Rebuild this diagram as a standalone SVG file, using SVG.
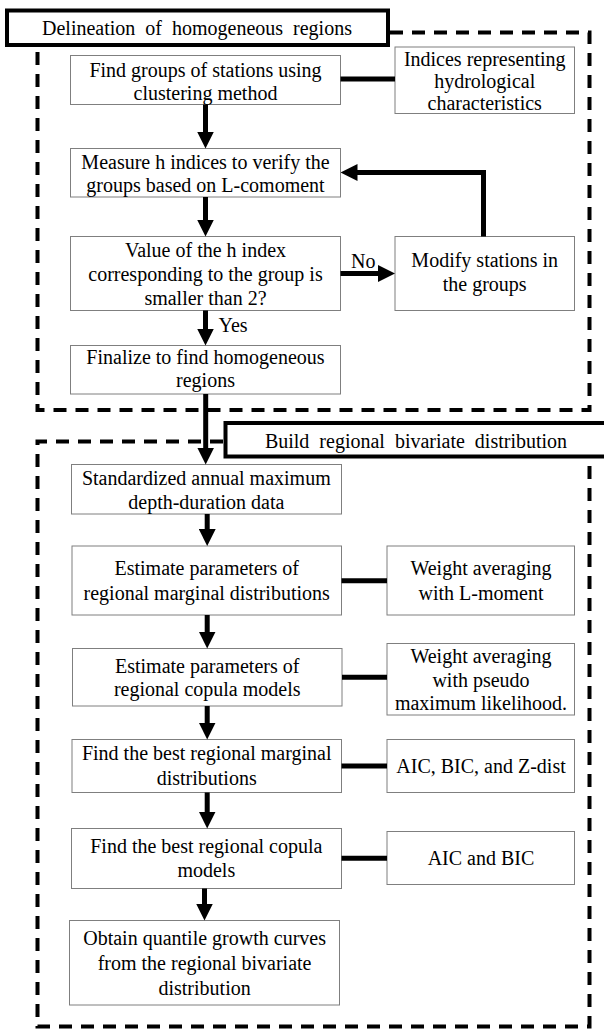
<svg xmlns="http://www.w3.org/2000/svg" width="604" height="1029" viewBox="0 0 604 1029">
<style>
.bg{fill:#ffffff}
.dash{fill:none;stroke:#000;stroke-width:4;stroke-dasharray:13 9}
.title{fill:#fff;stroke:#000;stroke-width:4}
.box{fill:#fff;stroke:#7f7f7f;stroke-width:1}
text{font-family:"Liberation Serif","Times New Roman",serif;font-size:20px;fill:#000;text-anchor:middle}
.tt{word-spacing:5px}
.lbl{text-anchor:start}
.ln{fill:none;stroke:#000;stroke-width:5}
.ar{fill:none;stroke:#000;stroke-width:5;marker-end:url(#ah)}
</style>
<defs>
<marker id="ah" markerUnits="userSpaceOnUse" markerWidth="17" markerHeight="17" refX="4" refY="8.5" orient="auto">
<path d="M0,0 L17,8.5 L0,17 Z" fill="#000"/>
</marker>
</defs>
<rect class="bg" x="0" y="0" width="604" height="1029"/>
<g id="group-delineation">
<path class="dash" d="M390 32.5 H589.5 V410 H37.5 V46.5"/>
<rect class="title" x="7" y="10.5" width="381" height="34.5"/>
<text class="tt" x="197" y="35">Delineation of homogeneous regions</text>
</g>
<g id="group-build">
<path class="dash" d="M223 441.5 H37.5 V1026.5 H589.5 V458"/>
<rect class="title" x="225.5" y="423" width="390" height="33.5"/>
<text class="tt" x="416" y="447.5">Build regional bivariate distribution</text>
</g>
<g id="n-find-groups">
<rect class="box" x="70.5" y="55.5" width="270" height="49"/>
<text x="205.5" y="77">Find groups of stations using</text>
<text x="205.5" y="100">clustering method</text>
</g>
<g id="n-indices">
<rect class="box" x="395" y="47" width="179.5" height="66.5"/>
<text x="484.7" y="66">Indices representing</text>
<text x="484.7" y="88">hydrological</text>
<text x="484.7" y="110">characteristics</text>
</g>
<g id="n-measure">
<rect class="box" x="70.5" y="148.5" width="270" height="48.5"/>
<text x="205.5" y="168.5">Measure h indices to verify the</text>
<text x="205.5" y="191.5">groups based on L-comoment</text>
</g>
<g id="n-value">
<rect class="box" x="70.5" y="236.5" width="270" height="74"/>
<text x="205.5" y="257">Value of the h index</text>
<text x="205.5" y="281">corresponding to the group is</text>
<text x="205.5" y="305">smaller than 2?</text>
</g>
<g id="n-modify">
<rect class="box" x="395" y="236.5" width="179.5" height="74"/>
<text x="484.7" y="267">Modify stations in</text>
<text x="484.7" y="290.5">the groups</text>
</g>
<g id="n-finalize">
<rect class="box" x="70.5" y="345.5" width="270" height="48.5"/>
<text x="205.5" y="364">Finalize to find homogeneous</text>
<text x="205.5" y="387">regions</text>
</g>
<g id="n-standardized">
<rect class="box" x="71.5" y="464.5" width="270" height="49.5"/>
<text x="206.3" y="485">Standardized annual maximum</text>
<text x="206.3" y="508.5">depth-duration data</text>
</g>
<g id="n-est-marginal">
<rect class="box" x="72" y="546" width="269.5" height="69"/>
<text x="206.7" y="575">Estimate parameters of</text>
<text x="206.7" y="600">regional marginal distributions</text>
</g>
<g id="n-weight-lmoment">
<rect class="box" x="387" y="546" width="187.5" height="69"/>
<text x="481" y="575">Weight averaging</text>
<text x="481" y="600">with L-moment</text>
</g>
<g id="n-est-copula">
<rect class="box" x="72.5" y="648.5" width="269.5" height="57.5"/>
<text x="207.2" y="673">Estimate parameters of</text>
<text x="207.2" y="696">regional copula models</text>
</g>
<g id="n-weight-pseudo">
<rect class="box" x="387" y="643.5" width="187.5" height="71.5"/>
<text x="481" y="663">Weight averaging</text>
<text x="481" y="686.5">with pseudo</text>
<text x="481" y="710">maximum likelihood.</text>
</g>
<g id="n-best-marginal">
<rect class="box" x="72" y="739.5" width="269.5" height="53"/>
<text x="206.7" y="760">Find the best regional marginal</text>
<text x="206.7" y="785">distributions</text>
</g>
<g id="n-aic-bic-z">
<rect class="box" x="387" y="739.5" width="187.5" height="53"/>
<text x="481" y="773">AIC, BIC, and Z-dist</text>
</g>
<g id="n-best-copula">
<rect class="box" x="71.5" y="828.5" width="270" height="60"/>
<text x="206.3" y="853">Find the best regional copula</text>
<text x="206.3" y="877">models</text>
</g>
<g id="n-aic-bic">
<rect class="box" x="387" y="831.5" width="187.5" height="53"/>
<text x="481" y="865">AIC and BIC</text>
</g>
<g id="n-obtain">
<rect class="box" x="69.5" y="920.5" width="270" height="84.5"/>
<text x="204.6" y="945">Obtain quantile growth curves</text>
<text x="204.6" y="970">from the regional bivariate</text>
<text x="204.6" y="995">distribution</text>
</g>
<g id="connectors">
<line class="ln" x1="340.5" y1="79" x2="395" y2="79"/>
<line class="ar" x1="205.5" y1="104.5" x2="205.5" y2="135.5"/>
<line class="ar" x1="205.5" y1="197" x2="205.5" y2="223.5"/>
<path class="ar" d="M483.5 236.5 V172.5 H353.5"/>
<line class="ar" x1="340.5" y1="273.5" x2="382" y2="273.5"/>
<text class="lbl" x="351" y="268">No</text>
<line class="ar" x1="205.5" y1="310.5" x2="205.5" y2="332.5"/>
<text class="lbl" x="218.5" y="331.5">Yes</text>
<line class="ar" x1="205.7" y1="394" x2="205.7" y2="451.5"/>
<line class="ar" x1="207.2" y1="514" x2="207.2" y2="533"/>
<line class="ln" x1="341.5" y1="580.7" x2="387" y2="580.7"/>
<line class="ar" x1="207.2" y1="615" x2="207.2" y2="635.5"/>
<line class="ln" x1="342" y1="677.3" x2="387" y2="677.3"/>
<line class="ar" x1="207.2" y1="706" x2="207.2" y2="726.5"/>
<line class="ln" x1="341.5" y1="766" x2="387" y2="766"/>
<line class="ar" x1="207.2" y1="792.5" x2="207.2" y2="815.5"/>
<line class="ln" x1="341.5" y1="858.3" x2="387" y2="858.3"/>
<line class="ar" x1="204.5" y1="888.5" x2="204.5" y2="907.5"/>
</g>
</svg>
